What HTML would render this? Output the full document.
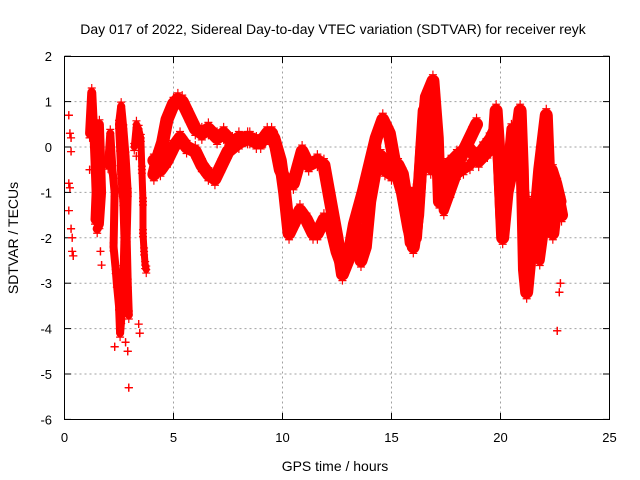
<!DOCTYPE html>
<html><head><meta charset="utf-8"><style>
html,body{margin:0;padding:0;background:#fff;}
svg{display:block;font-family:"Liberation Sans",sans-serif;}
</style></head><body>
<svg id="chart" width="640" height="480" viewBox="0 0 640 480" xmlns="http://www.w3.org/2000/svg">
<rect width="640" height="480" fill="#fff"/>
<text x="333" y="34" font-size="14" text-anchor="middle" fill="#000">Day 017 of 2022, Sidereal Day-to-day VTEC variation (SDTVAR) for receiver reyk</text>
<text x="335" y="471" font-size="14" text-anchor="middle" fill="#000">GPS time / hours</text>
<text x="18" y="238" font-size="14" text-anchor="middle" fill="#000" transform="rotate(-90 18 238)">SDTVAR / TECUs</text>
<g id="grid"></g>
<g id="ticks"></g>
<g id="marks"></g>
<rect x="64.5" y="56.5" width="545" height="363" fill="none" stroke="#000" stroke-width="1"/>
</svg>
<script>
const xTicks=[0,5,10,15,20,25];
const yTicks=[2,1,0,-1,-2,-3,-4,-5,-6];
const track1=[[4.1,-0.6],[4.3,-0.2],[4.5,0.1],[4.7,0.6],[5.0,0.95],[5.2,1.05],[5.4,1.0],[5.7,0.7],[6.0,0.4],[6.3,0.3],[6.6,0.4],[7.0,0.2],[7.3,0.3],[7.7,0.1],[8.0,0.2],[8.4,0.2],[8.8,0.1],[9.2,0.2],[9.5,0.3],[9.7,0.0],[9.9,-0.5],[10.2,-0.8],[10.5,-0.8],[10.9,-0.1],[11.2,-0.4],[11.6,-0.3],[11.9,-0.4],[12.2,-1.2],[12.5,-2.0],[12.75,-2.8],[13.0,-2.5],[13.3,-1.7],[13.7,-1.0],[14.0,-0.4],[14.3,0.2],[14.6,0.6],[14.9,0.3],[15.2,-0.5],[15.5,-1.0],[15.8,-1.8],[16.0,-2.2],[16.2,-1.5],[16.4,0.0],[16.6,1.1],[16.9,1.45],[17.1,0.2],[17.2,-1.2],[17.5,-0.9],[17.9,-0.5],[18.3,-0.1],[18.7,0.3],[18.9,0.5]];
const track2=[[4.1,-0.3],[4.4,-0.5],[4.7,-0.3],[5.0,0.0],[5.3,0.2],[5.6,0.0],[6.0,-0.1],[6.3,-0.4],[6.6,-0.6],[6.9,-0.7],[7.2,-0.4],[7.5,-0.1],[8.0,0.1],[8.5,0.2],[9.0,0.1],[9.3,0.3],[9.6,0.2],[9.9,-0.3],[10.1,-1.0],[10.3,-1.9],[10.6,-1.6],[10.8,-1.4],[11.1,-1.6],[11.4,-1.9],[11.6,-1.9],[11.9,-1.6],[12.2,-1.7],[12.5,-2.3],[12.8,-2.7],[13.1,-2.2],[13.4,-1.8],[13.6,-2.5],[13.8,-2.2],[14.0,-1.2],[14.3,-0.4],[14.5,-0.2],[14.7,-0.5],[15.0,-0.6],[15.3,-0.4],[15.5,-0.6],[15.7,-1.2],[15.9,-2.1],[16.1,-2.0],[16.3,-0.7],[16.5,0.8],[16.8,1.0],[17.0,-0.4],[17.3,-0.8],[17.6,-0.4],[18.0,-0.2],[18.5,0.0],[19.0,-0.3],[19.4,-0.1],[19.7,0.1],[19.8,0.8],[19.95,-0.3],[20.1,-2.0],[20.3,-1.0],[20.6,-0.3],[20.9,0.8],[21.0,-0.5],[21.1,-2.7],[21.2,-3.2],[21.4,-2.2],[21.6,-1.6],[21.8,-0.5],[22.0,0.3],[22.1,0.7],[22.2,-0.5],[22.4,-1.9],[22.6,-1.0],[22.8,-1.5]];
const track3=[[15.5,-0.8],[15.8,-1.5],[16.0,-1.0],[16.2,-1.8],[16.4,-0.5],[16.6,0.5],[16.8,-0.5],[17.0,0.5],[17.2,-0.6],[17.4,-1.4],[17.7,-1.0],[18.0,-0.6],[18.3,-0.5],[18.6,-0.4],[18.9,-0.2],[19.2,0.0],[19.5,0.2],[19.8,0.5],[20.0,-1.6],[20.2,-1.2],[20.5,0.4],[20.8,-0.2],[21.1,-1.0],[21.3,-2.6],[21.5,-1.2],[21.8,-2.5],[22.0,-1.8],[22.2,-1.0],[22.4,-0.5],[22.6,-0.8],[22.8,-1.2]];
const clusterB=[[1.15,0.3],[1.25,1.2],[1.3,0.7],[1.35,0.3],[1.4,-0.3],[1.45,-1.0],[1.4,-1.6],[1.5,-1.2],[1.55,-0.5],[1.6,0.5],[1.65,-0.2],[1.7,-1.0],[1.6,-1.7],[1.5,-1.8]];
const clusterC=[[2.0,-0.4],[2.1,0.3],[2.2,-0.5],[2.3,-1.0],[2.25,-2.2],[2.35,-2.7],[2.4,-3.0],[2.5,-3.5],[2.55,-4.1],[2.6,-3.8],[2.7,-3.0],[2.75,-2.0],[2.7,-1.2],[2.6,-0.6],[2.55,0.0],[2.5,0.5],[2.6,0.9],[2.7,0.4],[2.8,-0.2],[2.9,-1.0],[2.85,-2.0],[2.9,-3.0],[2.95,-3.7]];
const clusterD=[[3.2,0.0],[3.3,0.5],[3.4,0.4],[3.5,0.2],[3.55,-0.5],[3.6,-1.2],[3.6,-1.9],[3.65,-2.3],[3.7,-2.6],[3.75,-2.7]];
const scatterPts=[[0.2,0.7],[0.25,0.3],[0.3,0.2],[0.3,-0.1],[0.2,-0.8],[0.25,-0.9],[0.2,-1.4],[0.3,-1.8],[0.35,-2.0],[0.35,-2.3],[0.4,-2.4],[1.65,-2.3],[1.7,-2.6],[1.2,0.2],[1.15,-0.5],[2.95,-5.3],[2.9,-4.5],[2.3,-4.4],[2.8,-4.3],[3.4,-3.9],[3.45,-4.1],[3.3,-0.2],[22.6,-4.05],[22.7,-3.2],[22.75,-3.0]];
const X=t=>64.5+t*21.8;
const Y=v=>147+(0-v)*45.4;
const NS='http://www.w3.org/2000/svg';
function mk(tag,attrs,parent){const e=document.createElementNS(NS,tag);for(const k in attrs)e.setAttribute(k,attrs[k]);parent.appendChild(e);return e;}
const grid=document.getElementById('grid'),ticks=document.getElementById('ticks'),marks=document.getElementById('marks');
xTicks.forEach(t=>{
  if(t>0&&t<25){const g=mk('line',{x1:X(t),x2:X(t),y1:56.5,y2:419.5,stroke:'#a0a0a0','stroke-dasharray':'2,3'},grid);
  
  }
  const l=mk('text',{x:X(t),y:442,'font-size':13,'text-anchor':'middle'},ticks);l.textContent=t;
  
  
  mk('line',{x1:X(t),x2:X(t),y1:419.5,y2:413,stroke:'#000'},ticks);
  mk('line',{x1:X(t),x2:X(t),y1:56.5,y2:63,stroke:'#000'},ticks);
});
yTicks.forEach(v=>{
  if(v<2&&v>-6){const g=mk('line',{x1:64.5,x2:609.5,y1:Y(v),y2:Y(v),stroke:'#a0a0a0','stroke-dasharray':'2,3'},grid);
  
  }
  const l=mk('text',{x:52,y:Y(v)+5,'font-size':13,'text-anchor':'end'},ticks);l.textContent=v;
  
  
  mk('line',{x1:64.5,x2:71,y1:Y(v),y2:Y(v),stroke:'#000'},ticks);
  mk('line',{x1:609.5,x2:603,y1:Y(v),y2:Y(v),stroke:'#000'},ticks);
});
function band(arr,w,name){
  const p=mk('polyline',{points:arr.map(d=>X(d[0])+','+Y(d[1])).join(' '),fill:'none',stroke:'#ff0000','stroke-width':w,'stroke-linejoin':'round','stroke-linecap':'round'},marks);
  
  
  plus(arr,name+'-point',w/2);
}
function plus(arr,name,spread){
  spread=spread||0;
  arr.forEach(d=>{
    const x=X(d[0]),y=Y(d[1]);
    [-spread,0,spread].forEach(o=>{
      const m=mk('path',{d:`M${x-4},${y+o}h8M${x},${y+o-4}v8`,stroke:'#ff0000','stroke-width':1.2},marks);
      
      
    });
  });
}
band(track1,13,'track-upper');
band(track2,13,'track-lower');
band(track3,10,'track-third');
band(clusterB,9,'cluster-b');
band(clusterC,8,'cluster-c');
band(clusterD,7,'cluster-d');
plus(scatterPts,'scatter-point');
</script>
</body></html>
